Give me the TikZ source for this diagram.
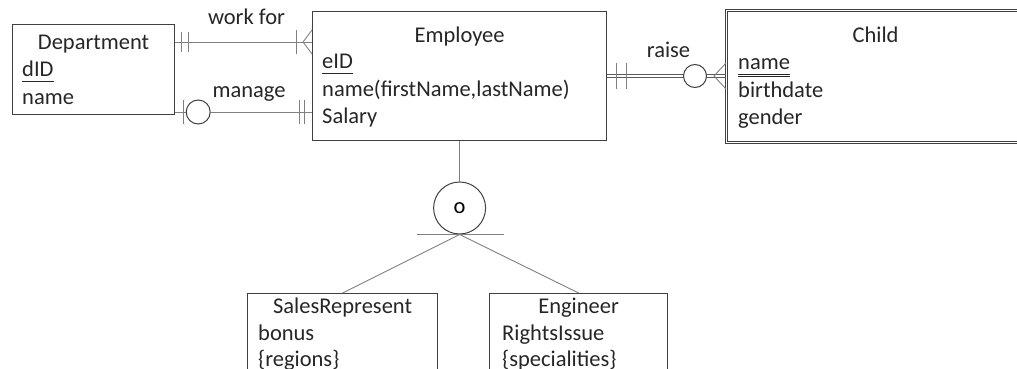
\documentclass[tikz,border=0pt]{standalone}
\usepackage{fontspec}
\setmainfont{Carlito}
\usepackage{tikz}
\usetikzlibrary{calc}

\begin{document}
\begin{tikzpicture}[x=1pt, y=-1pt, font=\fontsize{22.5}{27}\selectfont,
    entity/.style={draw=black!75, line width=1.2pt, anchor=north west, inner sep=0pt},
    weakentity/.style={entity, double=white, double distance=1.4pt, line width=1.1pt},
    enttitle/.style={anchor=base, inner sep=0pt, text=black!85},
    attr/.style={anchor=base west, inner sep=0pt, text=black!85},
    rel/.style={draw=black!50, line width=0.9pt},
    zerocirc/.style={circle, draw=black!75, fill=white, line width=1pt, inner sep=0pt}]
    \useasboundingbox (0,0) rectangle (1017,369);
    \clip (0,0) rectangle (1017,369);

    % entities
    \node [entity, minimum width=162, minimum height=90] (dep) at (12,24) {};
    \node [entity, minimum width=294, minimum height=129] (emp) at (312,11) {};
    \node [weakentity, minimum width=298, minimum height=132] (child) at (726,10) {};
    \node [entity, minimum width=190, minimum height=110] (sales) at (247,293) {};
    \node [entity, minimum width=178, minimum height=110] (eng) at (489,293) {};

    \node [enttitle] (dep-t) at ($(dep.north)+(0,26)$) {Department};
    \node [attr] (dep-id) at ($(dep.north west)+(10,52.5)$) {\underline{dID\vphantom{,}}};
    \node [attr] (dep-name) at ($(dep.north west)+(10,80)$) {name};

    \node [enttitle] (emp-t) at ($(emp.north)+(0,32)$) {Employee};
    \node [attr] (emp-id) at ($(emp.north west)+(10,57.5)$) {\underline{eID\vphantom{,}}};
    \node [attr] (emp-name) at ($(emp.north west)+(10,85)$) {name(firstName,lastName)};
    \node [attr] (emp-sal) at ($(emp.north west)+(10,112.5)$) {Salary};

    \node [enttitle] (child-t) at ($(child.north)+(0,33)$) {Child};
    \node [attr] (child-name) at ($(child.north west)+(12,60)$) {\underline{\underline{name\vphantom{,}}}};
    \node [attr] (child-bd) at ($(child.north west)+(12,87)$) {birthdate};
    \node [attr] (child-gd) at ($(child.north west)+(12,114)$) {gender};

    \node [enttitle] (sales-t) at ($(sales.north)+(0,20)$) {SalesRepresent};
    \node [attr] (sales-b) at ($(sales.north west)+(11,47)$) {bonus};
    \node [attr] (sales-r) at ($(sales.north west)+(11,73)$) {\{regions\}};

    \node [enttitle] (eng-t) at ($(eng.north)+(0,20)$) {Engineer};
    \node [attr] (eng-r) at ($(eng.north west)+(13,47)$) {RightsIssue};
    \node [attr] (eng-s) at ($(eng.north west)+(13,73)$) {\{specialities\}};

    % work for
    \coordinate (wf-a) at (dep.north east |- 0,42);
    \coordinate (wf-b) at (emp.north west |- 0,42);
    \draw [rel] (wf-a) -- (wf-b);
    \draw [rel] ([xshift=6]wf-a) +(0,-10) -- +(0,10);
    \draw [rel] ([xshift=13]wf-a) +(0,-10) -- +(0,10);
    \draw [rel] ([xshift=-16]wf-b) +(0,-12) -- +(0,12);
    \draw [rel] ($(wf-b)+(0,-12)$) -- ([xshift=-9]wf-b) -- ($(wf-b)+(0,12)$);
    \node [anchor=base, inner sep=0pt, text=black!85] (wf-l) at (246.5,25) {work for};

    % manage
    \coordinate (mg-a) at (dep.north east |- 0,112);
    \coordinate (mg-b) at (emp.north west |- 0,112);
    \draw [rel] (mg-a) -- (mg-b);
    \draw [rel] ([xshift=8]mg-a) +(0,-12) -- +(0,12);
    \node [zerocirc, minimum size=24] (mg-c) at ([xshift=23]mg-a) {};
    \draw [rel] ([xshift=-13]mg-b) +(0,-12) -- +(0,12);
    \draw [rel] ([xshift=-8]mg-b) +(0,-12) -- +(0,12);
    \node [anchor=base, inner sep=0pt, text=black!85] (mg-l) at (249,97) {manage};

    % raise
    \coordinate (rs-a) at (emp.north east |- 0,76);
    \coordinate (rs-b) at (child.north west |- 0,76);
    \draw [draw=black!65, line width=1pt] ([yshift=-1.3]rs-a) -- ([yshift=-1.3]rs-b);
    \draw [draw=black!65, line width=1pt] ([yshift=1.3]rs-a) -- ([yshift=1.3]rs-b);
    \draw [rel] ([xshift=9]rs-a) +(0,-13) -- +(0,13);
    \draw [rel] ([xshift=19]rs-a) +(0,-13) -- +(0,13);
    \node [zerocirc, minimum size=23] (rs-c) at ([xshift=-31]rs-b) {};
    \draw [rel] ($(rs-b)+(0,-13)$) -- ([xshift=-12]rs-b) -- ($(rs-b)+(0,13)$);
    \node [anchor=base, inner sep=0pt, text=black!85] (rs-l) at (668.5,58) {raise};

    % specialization
    \node [zerocirc, minimum size=52] (isa) at (emp.south |- 0,208) {o};
    \draw [rel] (emp.south) -- (isa.north);
    \draw [rel] (isa.south) +(-43,0) -- +(44,0);
    \draw [rel] (isa.south) -- (sales.north);
    \draw [rel] (isa.south) -- (eng.north);
\end{tikzpicture}
\end{document}
